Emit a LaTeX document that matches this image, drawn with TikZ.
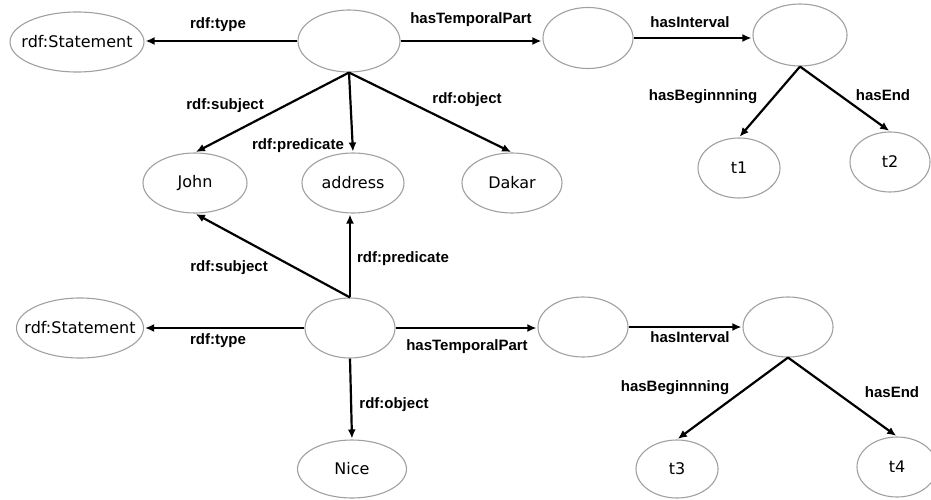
\documentclass[tikz,border=0pt]{standalone}
\usepackage{fontspec}
\setmainfont{DejaVu Sans}
\newfontfamily\labfont{Liberation Sans}
\usetikzlibrary{shapes.geometric,arrows.meta}
\definecolor{ellgray}{HTML}{A0A0A0}
\tikzset{
  ell/.style={ellipse, draw=ellgray, line width=1.1pt, inner sep=0pt,
    font=\fontsize{16}{19}\selectfont},
  lab/.style={inner sep=0pt, font=\labfont\bfseries\fontsize{15}{18}\selectfont},
  arr/.style={line width=2.2pt, -{Latex[length=9pt,width=8pt]}, shorten >=1pt}
}
\begin{document}
\begin{tikzpicture}[x=1pt,y=-1pt]
\useasboundingbox (0,0) rectangle (931,500);
% top statement
\node[ell, minimum width=134pt, minimum height=60pt] (st1) at (77,42) {\makebox[0pt]{rdf:Statement}};
\node[ell, minimum width=102pt, minimum height=62pt] (s1) at (349,41) {};
\node[ell, minimum width=90pt, minimum height=61pt] (tp1) at (588,38) {};
\node[ell, minimum width=94pt, minimum height=62pt] (i1) at (800,35) {};
\node[ell, minimum width=82pt, minimum height=60pt] (t1) at (739,168) {t1};
\node[ell, minimum width=80pt, minimum height=60pt] (t2) at (890,162) {t2};
\node[ell, minimum width=104pt, minimum height=60pt] (john) at (195,183) {\makebox[0pt]{John}};
\node[ell, minimum width=102pt, minimum height=60pt] (addr) at (353,183) {\makebox[0pt]{address}};
\node[ell, minimum width=100pt, minimum height=60pt] (dakar) at (512,183) {\makebox[0pt]{Dakar}};
% bottom statement
\node[ell, minimum width=90pt, minimum height=60pt] (s2) at (350,328) {};
\node[ell, minimum width=127pt, minimum height=60pt] (st2) at (80,328) {\makebox[0pt]{rdf:Statement}};
\node[ell, minimum width=109pt, minimum height=58pt] (nice) at (352,469) {\makebox[0pt]{Nice}};
\node[ell, minimum width=90pt, minimum height=60pt] (tp2) at (583,327) {};
\node[ell, minimum width=90pt, minimum height=60pt] (i2) at (788,327) {};
\node[ell, minimum width=82pt, minimum height=58pt] (t3) at (677,469) {t3};
\node[ell, minimum width=80pt, minimum height=60pt] (t4) at (897,467) {t4};

% top connectors
\draw[arr] (s1.west) -- (s1.west -| st1.east);
\draw[arr] (s1.east) -- (s1.east -| tp1.west);
\draw[arr] (tp1.east) -- (tp1.east -| i1.west);
\draw[arr] (s1.south) -- (john.north);
\draw[arr] (s1.south) -- (addr.north);
\draw[arr] (s1.south) -- (dakar.north);
\draw[arr] (i1.south) -- (t1.north);
\draw[arr] (i1.south) -- (t2.north);
% bottom connectors
\draw[arr] (s2.north) -- (john.south);
\draw[arr] (s2.north) -- (s2.north |- addr.south);
\draw[arr] (s2.west) -- (s2.west -| st2.east);
\draw[arr] (s2.east) -- (s2.east -| tp2.west);
\draw[arr] (tp2.east) -- (tp2.east -| i2.west);
\draw[arr] (s2.south) -- (nice.north);
\draw[arr] (i2.south) -- (t3.north);
\draw[arr] (i2.south) -- (t4.north);

% labels
\node[lab] (l1) at (218,25) {rdf:type};
\node[lab] (l2) at (471,20) {hasTemporalPart};
\node[lab] (l3) at (690,22) {hasInterval};
\node[lab] (l4) at (703,97) {hasBeginnning};
\node[lab] (l5) at (883,95) {hasEnd};
\node[lab] (l6) at (225,106) {rdf:subject};
\node[lab] (l7) at (298,146) {rdf:predicate};
\node[lab] (l8) at (467,100) {rdf:object};
\node[lab] (l9) at (229,268) {rdf:subject};
\node[lab] (l10) at (403,259) {rdf:predicate};
\node[lab] (l11) at (218,341) {rdf:type};
\node[lab] (l12) at (467,347) {hasTemporalPart};
\node[lab] (l13) at (690,337) {hasInterval};
\node[lab] (l14) at (394,405) {rdf:object};
\node[lab] (l15) at (675,388) {hasBeginnning};
\node[lab] (l16) at (892,392) {hasEnd};
\end{tikzpicture}
\end{document}
